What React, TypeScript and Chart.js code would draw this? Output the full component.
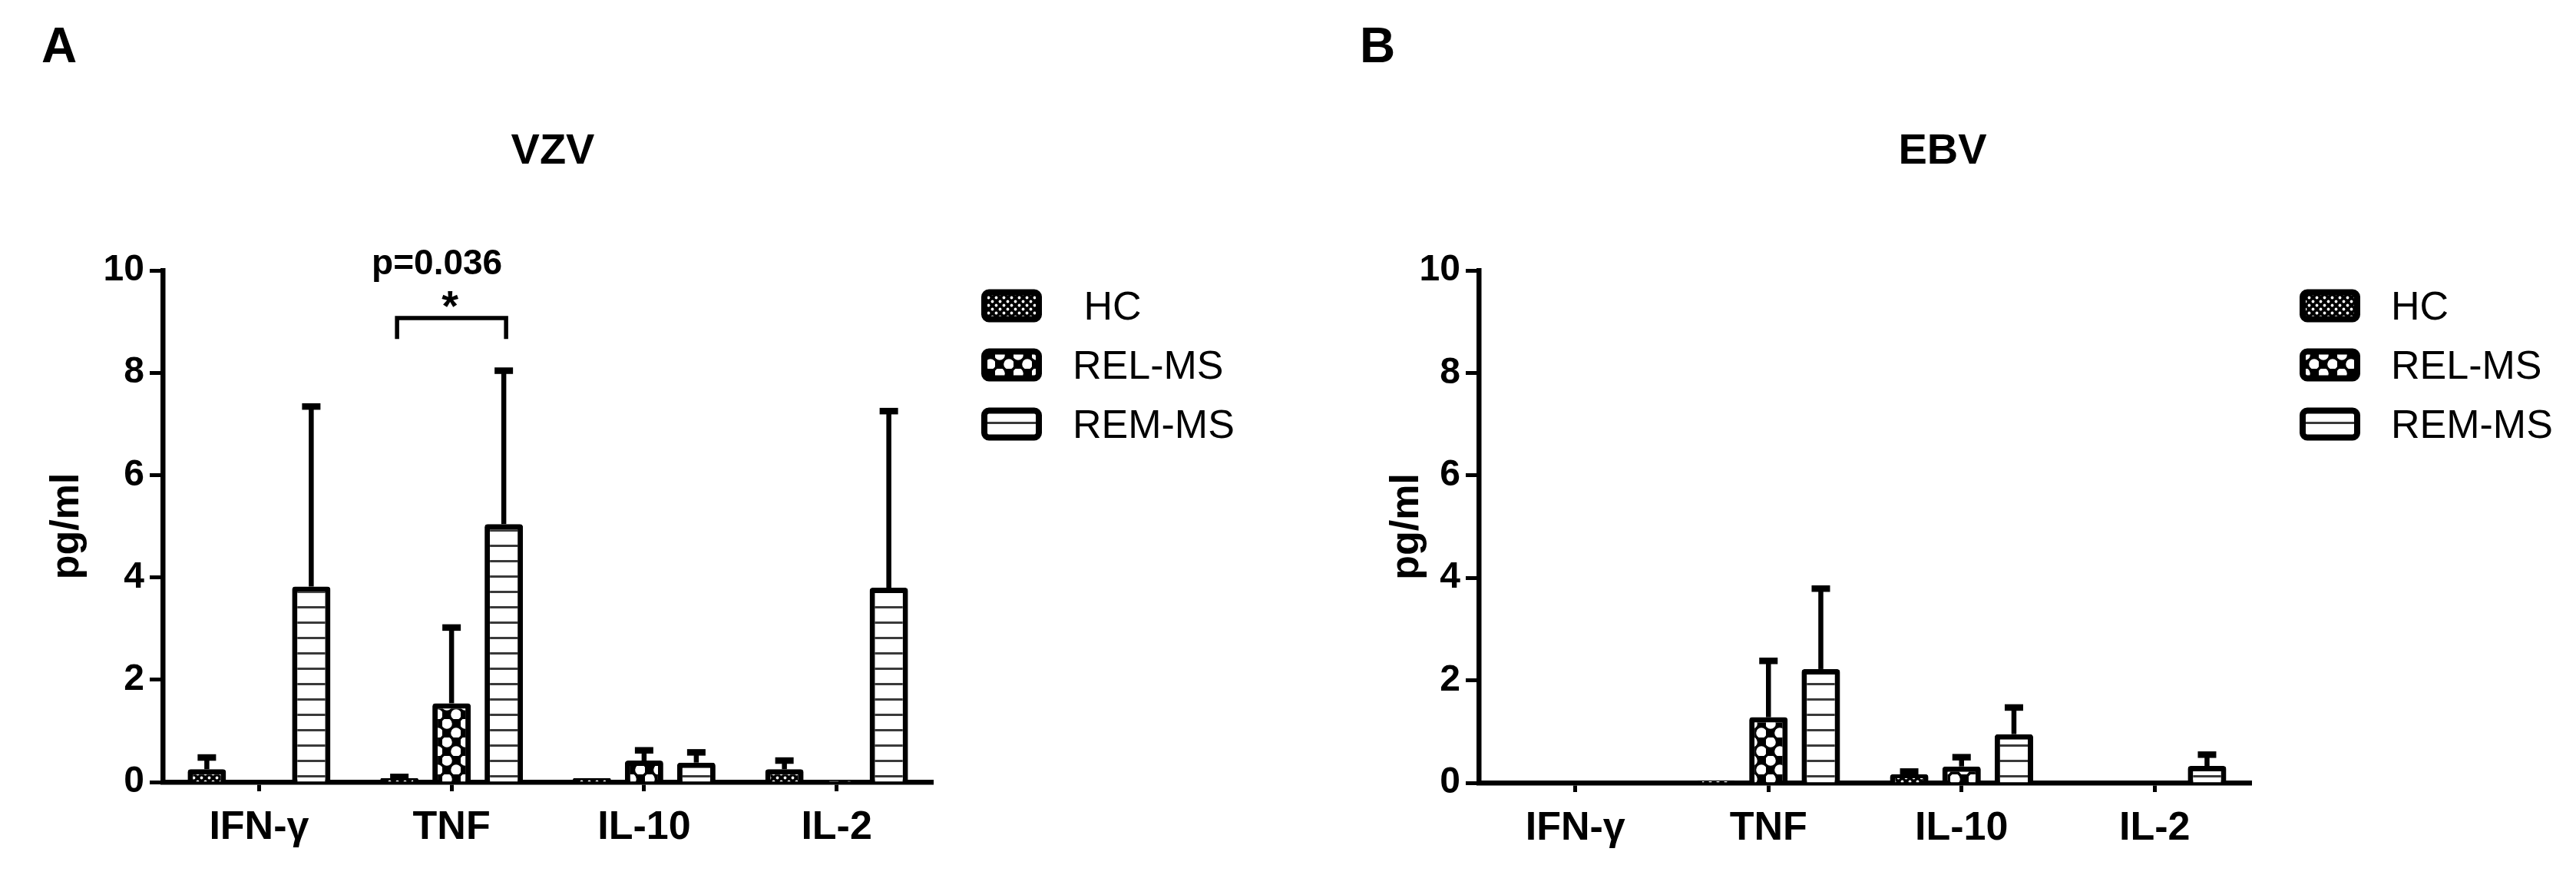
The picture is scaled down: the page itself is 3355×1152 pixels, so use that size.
import React, { useEffect, useRef } from 'react';
import { Chart, registerables } from 'chart.js';

Chart.register(...registerables);

// ---------- data ----------
const categories = ['IFN-\u03b3', 'TNF', 'IL-10', 'IL-2'];
const seriesLabelsA = [' HC', 'REL-MS', 'REM-MS'];
const seriesLabelsB = ['HC', 'REL-MS', 'REM-MS'];
const yTickValues = [0, 2, 4, 6, 8, 10];

// Panel A: VZV (mean, SD)
const vzvHC = [0.25, 0.08, 0.08, 0.25];
const vzvHCsd = [0.23, 0.02, 0, 0.17];
const vzvREL = [0, 1.54, 0.42, 0.03];
const vzvRELsd = [0, 1.48, 0.2, 0];
const vzvREM = [3.82, 5.04, 0.38, 3.8];
const vzvREMsd = [3.52, 3.0, 0.2, 3.45];

// Panel B: EBV (mean, SD)
const ebvHC = [0, 0.05, 0.17, 0];
const ebvHCsd = [0, 0, 0.05, 0];
const ebvREL = [0, 1.28, 0.32, 0];
const ebvRELsd = [0, 1.1, 0.18, 0];
const ebvREM = [0, 2.22, 0.95, 0.33];
const ebvREMsd = [0, 1.57, 0.52, 0.22];

// significance annotation (panel A, TNF: HC vs REM-MS)
const sigText = 'p=0.036';
const sigStar = '*';
const sigCategory = 1;
const bracketTopValue = 9.07;
const bracketFootValue = 8.66;
const starValue = 9.44;
const pTextBaselineValue = 9.92;

const FONT = '"Liberation Sans", Arial, Helvetica, sans-serif';

// ---------- patterns ----------
function makePattern(kind: string): CanvasPattern {
  const c = document.createElement('canvas');
  const ctx = c.getContext('2d') as CanvasRenderingContext2D;
  if (kind === 'hc') {
    c.width = 10; c.height = 10;
    ctx.fillStyle = '#000'; ctx.fillRect(0, 0, 10, 10);
    ctx.fillStyle = '#fff';
    ctx.beginPath(); ctx.arc(2.5, 2.5, 1.9, 0, Math.PI * 2); ctx.fill();
    ctx.beginPath(); ctx.arc(7.5, 7.5, 1.9, 0, Math.PI * 2); ctx.fill();
  } else if (kind === 'rel') {
    c.width = 24; c.height = 24;
    ctx.fillStyle = '#000'; ctx.fillRect(0, 0, 24, 24);
    ctx.fillStyle = '#fff';
    ctx.beginPath(); ctx.arc(6, 6, 6.8, 0, Math.PI * 2); ctx.fill();
    ctx.beginPath(); ctx.arc(18, 18, 6.8, 0, Math.PI * 2); ctx.fill();
  } else {
    c.width = 10; c.height = 20;
    ctx.fillStyle = '#fff'; ctx.fillRect(0, 0, 10, 20);
    ctx.fillStyle = '#3a3a3a'; ctx.fillRect(0, 9, 10, 3);
  }
  return ctx.createPattern(c, 'repeat') as CanvasPattern;
}

function drawCenteredText(ctx: CanvasRenderingContext2D, text: string, x: number, yc: number, align: CanvasTextAlign) {
  ctx.textAlign = align;
  ctx.textBaseline = 'alphabetic';
  const m = ctx.measureText(text);
  ctx.fillText(text, x, yc + (m.actualBoundingBoxAscent - m.actualBoundingBoxDescent) / 2);
}

function makeErrorBarPlugin(errors: number[][]) {
  return {
    id: 'errorBars',
    afterDatasetsDraw(chart: any) {
      const { ctx } = chart;
      const y = chart.scales.y;
      ctx.save();
      ctx.strokeStyle = '#000';
      ctx.lineCap = 'butt';
      chart.data.datasets.forEach((ds: any, di: number) => {
        const meta = chart.getDatasetMeta(di);
        meta.data.forEach((bar: any, i: number) => {
          const sd = errors[di][i];
          if (!sd) return;
          const v = ds.data[i];
          const yTop = y.getPixelForValue(v + sd);
          const yBar = y.getPixelForValue(v);
          ctx.lineWidth = 6.5;
          ctx.beginPath(); ctx.moveTo(bar.x, yBar); ctx.lineTo(bar.x, yTop - 2); ctx.stroke();
          ctx.lineWidth = 8.5;
          ctx.beginPath(); ctx.moveTo(bar.x - 12, yTop); ctx.lineTo(bar.x + 12, yTop); ctx.stroke();
        });
      });
      ctx.restore();
    },
  };
}

interface DecorCfg {
  letter: string;
  letterX: number;
  title: string;
  titleX: number;
  bracket: boolean;
  patterns: CanvasPattern[];
}

function makeDecorPlugin(cfg: DecorCfg) {
  return {
    id: 'decor',
    afterDraw(chart: any) {
      const { ctx, chartArea } = chart;
      const y = chart.scales.y;
      ctx.save();
      ctx.fillStyle = '#000';
      // panel letter
      ctx.font = `bold 64px ${FONT}`;
      drawCenteredText(ctx, cfg.letter, cfg.letterX, 58, 'left');
      // title
      ctx.font = `bold 56px ${FONT}`;
      drawCenteredText(ctx, cfg.title, cfg.titleX, 194, 'center');

      // legend
      const rowOffsets = [46, 123, 200];
      const boxX = chartArea.right + 63;
      chart.data.datasets.forEach((ds: any, i: number) => {
        const cy = chartArea.top + rowOffsets[i];
        const bw = 79, bh = 43;
        ctx.beginPath();
        ctx.roundRect(boxX + 4, cy - bh / 2 + 4, bw - 8, bh - 8, 6);
        ctx.fillStyle = cfg.patterns[i];
        ctx.fill();
        ctx.lineWidth = 8;
        ctx.strokeStyle = '#000';
        ctx.stroke();
        ctx.fillStyle = '#000';
        ctx.font = `52px ${FONT}`;
        drawCenteredText(ctx, ds.label, boxX + 119, cy, 'left');
      });

      // significance bracket
      if (cfg.bracket) {
        const x1 = chart.getDatasetMeta(0).data[sigCategory].x - 3;
        const x2 = chart.getDatasetMeta(2).data[sigCategory].x + 3;
        const yT = y.getPixelForValue(bracketTopValue);
        const yF = y.getPixelForValue(bracketFootValue);
        ctx.strokeStyle = '#000';
        ctx.lineWidth = 5.5;
        ctx.lineJoin = 'miter';
        ctx.beginPath();
        ctx.moveTo(x1, yF); ctx.lineTo(x1, yT); ctx.lineTo(x2, yT); ctx.lineTo(x2, yF);
        ctx.stroke();
        const mid = (x1 + x2) / 2;
        ctx.font = `bold 56px ${FONT}`;
        drawCenteredText(ctx, sigStar, mid - 2, y.getPixelForValue(starValue), 'center');
        ctx.font = `bold 46px ${FONT}`;
        ctx.textAlign = 'center';
        ctx.textBaseline = 'alphabetic';
        ctx.fillText(sigText, mid - 19, y.getPixelForValue(pTextBaselineValue));
      }
      ctx.restore();
    },
  };
}

function buildChart(
  canvas: HTMLCanvasElement,
  labels: string[],
  values: number[][],
  errors: number[][],
  patterns: CanvasPattern[],
  yAxisWidth: number,
  yTitlePad: number,
  xAxisHeight: number,
  rightPad: number,
  decor: DecorCfg
) {
  return new Chart(canvas, {
    type: 'bar',
    data: {
      labels: categories,
      datasets: values.map((v, i) => ({
        label: labels[i],
        data: v,
        backgroundColor: patterns[i],
        borderColor: '#000',
        borderWidth: 7,
        borderRadius: 4,
        categoryPercentage: 0.8136,
        barPercentage: 0.735,
      })),
    },
    options: {
      animation: false,
      responsive: false,
      maintainAspectRatio: false,
      layout: { padding: { top: 352, left: 0, right: rightPad, bottom: 0 } },
      plugins: {
        legend: { display: false },
        title: { display: false },
        tooltip: { enabled: false },
      },
      scales: {
        x: {
          type: 'category',
          offset: true,
          grid: {
            offset: false,
            drawOnChartArea: false,
            drawTicks: true,
            tickLength: 12,
            tickWidth: 5,
            tickColor: '#000',
          },
          border: { display: true, color: '#000', width: 6.5 },
          ticks: {
            color: '#000',
            font: { family: FONT, size: 52, weight: 'bold' },
            padding: 16,
            maxRotation: 0,
            autoSkip: false,
          },
          afterFit: (scale: any) => { scale.height = xAxisHeight; },
        },
        y: {
          min: 0,
          max: 10,
          afterBuildTicks: (scale: any) => { scale.ticks = yTickValues.map((v) => ({ value: v })); },
          grid: {
            drawOnChartArea: false,
            drawTicks: true,
            tickLength: 17,
            tickWidth: 5,
            tickColor: '#000',
          },
          border: { display: true, color: '#000', width: 6.5 },
          ticks: {
            color: '#000',
            font: { family: FONT, size: 48, weight: 'bold' },
            padding: 7,
          },
          title: {
            display: true,
            text: 'pg/ml',
            color: '#000',
            font: { family: FONT, size: 52, weight: 'bold' },
            padding: { top: yTitlePad, bottom: 0 },
          },
          afterFit: (scale: any) => { scale.width = yAxisWidth; },
        },
      },
    } as any,
    plugins: [makeErrorBarPlugin(errors), makeDecorPlugin(decor)],
  });
}

export default function App() {
  const refA = useRef<HTMLCanvasElement>(null);
  const refB = useRef<HTMLCanvasElement>(null);

  useEffect(() => {
    const patterns = [makePattern('hc'), makePattern('rel'), makePattern('rem')];
    const chartA = buildChart(
      refA.current as HTMLCanvasElement,
      seriesLabelsA,
      [vzvHC, vzvREL, vzvREM],
      [vzvHCsd, vzvRELsd, vzvREMsd],
      patterns,
      212,
      56,
      134,
      1700 - 1215,
      { letter: 'A', letterX: 54, title: 'VZV', titleX: 720, bracket: true, patterns }
    );
    const chartB = buildChart(
      refB.current as HTMLCanvasElement,
      seriesLabelsB,
      [ebvHC, ebvREL, ebvREM],
      [ebvHCsd, ebvRELsd, ebvREMsd],
      patterns,
      226,
      101,
      133,
      1655 - 1232,
      { letter: 'B', letterX: 71, title: 'EBV', titleX: 830, bracket: false, patterns }
    );
    return () => {
      chartA.destroy();
      chartB.destroy();
    };
  }, []);

  return (
    <div style={{ position: 'absolute', left: 0, top: 0, width: 3355, height: 1152, background: '#fff', overflow: 'hidden' }}>
      <canvas ref={refA} width={1700} height={1152} style={{ position: 'absolute', left: 0, top: 0 }} />
      <canvas ref={refB} width={1655} height={1152} style={{ position: 'absolute', left: 1700, top: 0 }} />
    </div>
  );
}
